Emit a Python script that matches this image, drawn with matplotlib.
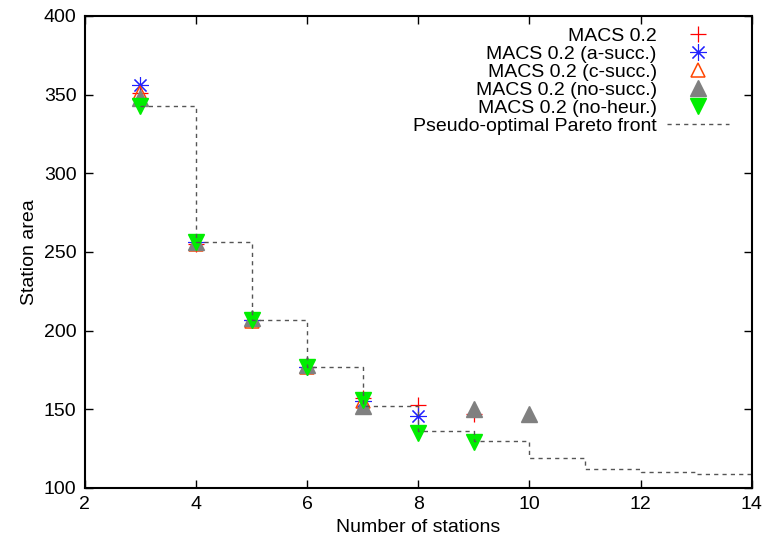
import matplotlib
matplotlib.use("Agg")
import matplotlib.pyplot as plt

plt.rcParams['font.family'] = ['Liberation Sans', 'DejaVu Sans']

# data
x_macs = [3, 4, 5, 6, 7, 8, 9]
y_macs = [351, 255, 207, 177, 157, 153, 147]

x_asucc = [3, 4, 5, 6, 7, 8]
y_asucc = [356, 256, 207, 177, 155, 146]

x_csucc = [3, 4, 5, 6, 7]
y_csucc = [351, 255, 206, 177, 155]

x_nosucc = [3, 4, 5, 6, 7, 9, 10]
y_nosucc = [348, 256, 208, 178, 152, 150, 147]

x_noheur = [3, 4, 5, 6, 7, 8, 9]
y_noheur = [343, 256, 207, 177, 156, 135, 129]

x_front = [3, 4, 5, 6, 7, 8, 9, 10, 11, 12, 13, 14]
y_front = [343, 256, 207, 177, 152, 136, 130, 119, 112, 110, 109, 109]

fig = plt.figure(figsize=(7.64, 5.47), dpi=100)
ax = fig.add_axes([0.111, 0.108, 0.873, 0.863])

ax.plot(x_macs, y_macs, ls='none', marker='+', ms=12, mew=0.9, color='red', label='MACS 0.2')
ax.plot(x_asucc, y_asucc, ls='none', marker=(8, 2, 0), ms=12, mew=0.8, color='#2020ff', label='MACS 0.2 (a-succ.)')
ax.plot(x_csucc, y_csucc, ls='none', marker='^', ms=10, mew=1.1, mfc='none', color='#ff4500', label='MACS 0.2 (c-succ.)')
ax.plot(x_nosucc, y_nosucc, ls='none', marker='^', ms=11, color='#808080', label='MACS 0.2 (no-succ.)')
ax.plot(x_noheur, y_noheur, ls='none', marker='v', ms=11, color='#00ee00', label='MACS 0.2 (no-heur.)')
ax.step(x_front, y_front, where='post', ls=(0, (3, 3)), lw=1, color='#555555', label='Pseudo-optimal Pareto front')

ax.set_xlim(2, 14)
ax.set_ylim(100, 400)
ax.set_xticks(range(2, 15, 2))
ax.set_yticks(range(100, 401, 50))
ax.tick_params(direction='in', top=True, right=True, labelsize=14, length=6, width=1, pad=6)
for s in ax.spines.values():
    s.set_linewidth(1.5)

ax.set_xlabel('Number of stations', fontsize=14)
ax.set_ylabel('Station area', fontsize=14)

ax.legend(loc='upper right', bbox_to_anchor=(0.983, 1.0), frameon=False, markerfirst=False,
          fontsize=14, handlelength=3.2, labelspacing=0.02, borderaxespad=0.2,
          handletextpad=0.5)

fig.savefig('out.png', dpi=100)
